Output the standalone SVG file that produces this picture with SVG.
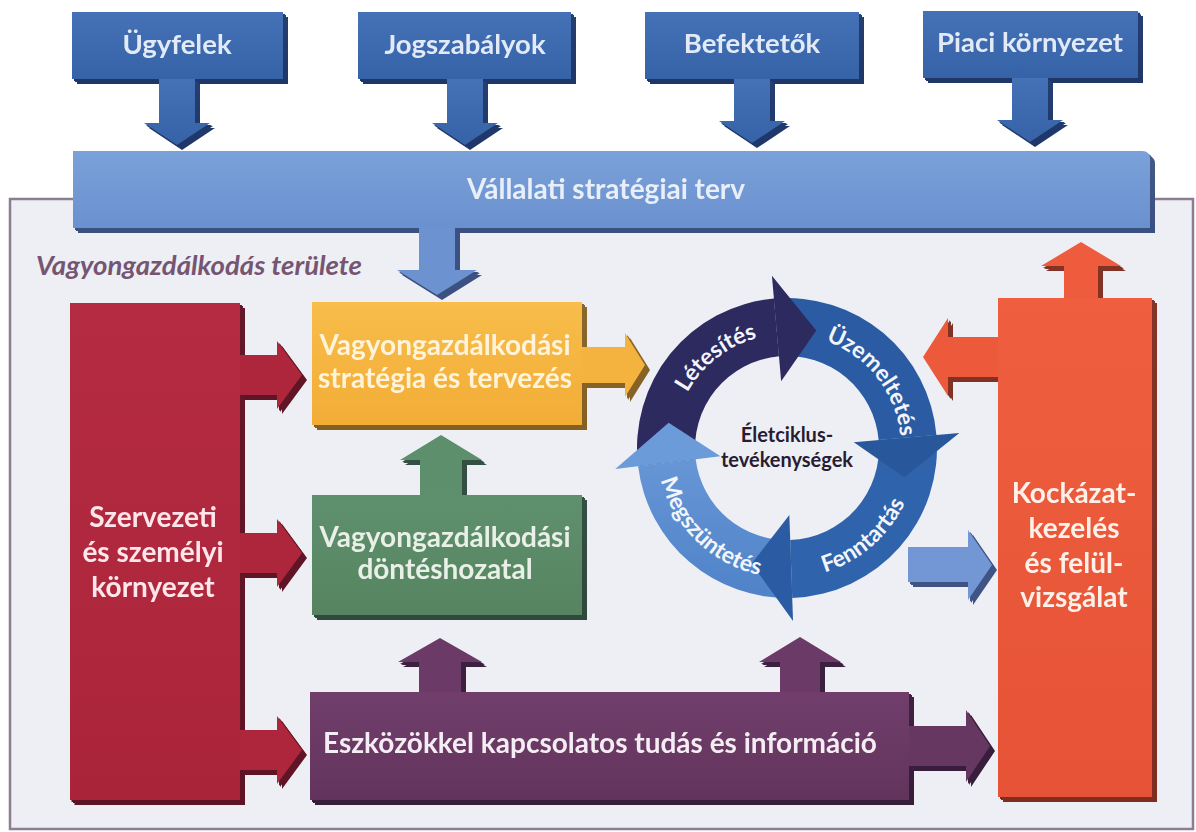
<svg xmlns="http://www.w3.org/2000/svg" width="1196" height="832" viewBox="0 0 1196 832">
<defs>
<style>
.lbl{font-family:Lato,"Open Sans","DejaVu Sans",sans-serif;font-weight:700;font-size:28px;text-anchor:middle}
.top{font-size:27.5px}
.ring{font-family:Lato,"Open Sans","DejaVu Sans",sans-serif;font-weight:700;font-size:23px;fill:#f2f5fb}
.ctr{font-family:Lato,"Open Sans","DejaVu Sans",sans-serif;font-weight:700;font-size:20px;fill:#2a1c30;text-anchor:middle}
</style>
<filter id="ext" x="0" y="0" width="1196" height="832" filterUnits="userSpaceOnUse" color-interpolation-filters="sRGB">
<feColorMatrix in="SourceGraphic" type="matrix" values="0.55 0 0 0 0 0 0.55 0 0 0 0 0 0.62 0 0 0 0 0 1 0" result="dark"/>
<feOffset in="dark" dx="1.5" dy="1.7" result="d1"/>
<feOffset in="dark" dx="3" dy="3.4" result="d2"/>
<feOffset in="dark" dx="4.5" dy="5" result="d3"/>
<feMerge><feMergeNode in="d3"/><feMergeNode in="d2"/><feMergeNode in="d1"/><feMergeNode in="SourceGraphic"/></feMerge>
</filter>
<linearGradient id="gBlue" x1="0" y1="0" x2="0" y2="1"><stop offset="0" stop-color="#4572b7"/><stop offset="1" stop-color="#3662a8"/></linearGradient>
<linearGradient id="gBar" x1="0" y1="0" x2="0" y2="1"><stop offset="0" stop-color="#7ba1d9"/><stop offset="1" stop-color="#6a91cf"/></linearGradient>
<linearGradient id="gRed" x1="0" y1="0" x2="0" y2="1"><stop offset="0" stop-color="#b52c42"/><stop offset="1" stop-color="#aa2439"/></linearGradient>
<linearGradient id="gYel" x1="0" y1="0" x2="0" y2="1"><stop offset="0" stop-color="#f8bd4a"/><stop offset="1" stop-color="#f2ad37"/></linearGradient>
<linearGradient id="gGrn" x1="0" y1="0" x2="0" y2="1"><stop offset="0" stop-color="#5f906e"/><stop offset="1" stop-color="#568460"/></linearGradient>
<linearGradient id="gPur" x1="0" y1="0" x2="0" y2="1"><stop offset="0" stop-color="#713e6b"/><stop offset="1" stop-color="#62345d"/></linearGradient>
<linearGradient id="gOra" x1="0" y1="0" x2="0" y2="1"><stop offset="0" stop-color="#ef5f3f"/><stop offset="1" stop-color="#e65236"/></linearGradient>
<linearGradient id="gMeg" x1="0" y1="0" x2="0" y2="1"><stop offset="0" stop-color="#6796d6"/><stop offset="1" stop-color="#4f82c8"/></linearGradient>
<path id="tpLet" d="M674.1,463.9 A114,114 0 0 1 829.7,342.3"/>
<path id="tpUzem" d="M771.1,335.1 A114,114 0 0 1 892.7,490.7"/>
<path id="tpFenn" d="M744.7,570.9 A130,130 0 0 0 914.6,423.2"/>
<path id="tpMeg" d="M660.86,416.55 A130,130 0 0 0 822.83,572.96"/>
</defs>
<rect x="0" y="0" width="1196" height="832" fill="#ffffff"/>
<g id="frame">
<rect x="10" y="199" width="1183" height="630" fill="#edeff4" stroke="#8a7e90" stroke-width="2.5"/>
<text x="36" y="275" font-family="Lato,'Open Sans',sans-serif" font-weight="700" font-style="italic" font-size="27.5" fill="#765572">Vagyongazdálkodás területe</text>
</g>
<g filter="url(#ext)">
<g id="connectors">
<polygon fill="url(#gBlue)" points="159,78 195,78 195,123 210,123 177,145 144,123 159,123"/>
<polygon fill="url(#gBlue)" points="447,78 483,78 483,123 498,123 465,145 432,123 447,123"/>
<polygon fill="url(#gBlue)" points="734,78 770,78 770,121 785,121 752,143 719,121 734,121"/>
<polygon fill="url(#gBlue)" points="1012,77 1048,77 1048,120 1063,120 1030,142 997,120 1012,120"/>
<polygon fill="#6c93d0" points="419,227 455,227 455,270 477,270 437,295 397,270 419,270"/>
<polygon fill="#ad263b" points="239,355 277,355 277,341 302,375 277,409 277,395 239,395"/>
<polygon fill="#ad263b" points="239,533 277,533 277,519 302,553 277,587 277,573 239,573"/>
<polygon fill="#ad263b" points="239,730 277,730 277,716 302,750 277,784 277,770 239,770"/>
<polygon fill="#f4b23e" points="581,347 625,347 625,333 645,365 625,397 625,383 581,383"/>
<polygon fill="#5e8f6d" points="420,496 420,460 400,460 441,435 482,460 462,460 462,496"/>
<polygon fill="#6c3a66" points="419,693 419,662 398,662 440,638 482,662 461,662 461,693"/>
<polygon fill="#6c3a66" points="780,693 780,662 759,662 800,637 841,662 820,662 820,693"/>
<polygon fill="#663761" points="908,726 966,726 966,710 990,746 966,782 966,766 908,766"/>
<polygon fill="#ee5c3d" points="1064,299 1064,266 1041,266 1081,242 1121,266 1098,266 1098,299"/>
<polygon fill="#ec5a3b" points="999,337 948,337 948,318 923,357 948,396 948,377 999,377"/>
<polygon fill="#7397d5" points="908,547 968,547 968,530 992,565 968,600 968,582 908,582"/>
</g>
<g id="ugyfelek">
<rect x="72" y="12" width="211" height="67" fill="url(#gBlue)"/>
<text class="lbl top" x="177" y="54" fill="#e2eaf7">Ügyfelek</text>
</g>
<g id="jogszabalyok">
<rect x="358" y="12" width="213" height="67" fill="url(#gBlue)"/>
<text class="lbl top" x="465" y="54" fill="#e2eaf7">Jogszabályok</text>
</g>
<g id="befektetok">
<rect x="645" y="12" width="214" height="67" fill="url(#gBlue)"/>
<text class="lbl top" x="752" y="53" fill="#e2eaf7">Befektetők</text>
</g>
<g id="piaci">
<rect x="923" y="11" width="215" height="67" fill="url(#gBlue)"/>
<text class="lbl top" x="1030" y="52" fill="#e2eaf7">Piaci környezet</text>
</g>
<g id="strategia-terv">
<path d="M73,151 H1142 Q1150,151 1150,159 V228 H73 Z" fill="url(#gBar)"/>
<text class="lbl" x="606" y="199" fill="#e8eff9">Vállalati stratégiai terv</text>
</g>
<g id="szervezeti">
<rect x="70" y="303" width="170" height="497" fill="url(#gRed)"/>
<text class="lbl" x="153" y="527" fill="#ffe6ea">Szervezeti</text>
<text class="lbl" x="153" y="562" fill="#ffe6ea">és személyi</text>
<text class="lbl" x="153" y="597" fill="#ffe6ea">környezet</text>
</g>
<g id="strategia-tervezes">
<rect x="312" y="302" width="270" height="123" fill="url(#gYel)"/>
<text class="lbl" x="445" y="355" fill="#fff3da">Vagyongazdálkodási</text>
<text class="lbl" x="445" y="388" fill="#fff3da">stratégia és tervezés</text>
</g>
<g id="donteshozatal">
<rect x="312" y="495" width="270" height="120" fill="url(#gGrn)"/>
<text class="lbl" x="445" y="547" fill="#e9f0e7">Vagyongazdálkodási</text>
<text class="lbl" x="445" y="579" fill="#e9f0e7">döntéshozatal</text>
</g>
<g id="tudas-informacio">
<rect x="310" y="692" width="599" height="108" fill="url(#gPur)"/>
<text class="lbl" x="600" y="753" fill="#f4edf3">Eszközökkel kapcsolatos tudás és információ</text>
</g>
<g id="kockazatkezeles">
<rect x="998" y="298" width="154" height="499" fill="url(#gOra)"/>
<text class="lbl" x="1074" y="503" fill="#fff0ea">Kockázat-</text>
<text class="lbl" x="1074" y="538" fill="#fff0ea">kezelés</text>
<text class="lbl" x="1074" y="573" fill="#fff0ea">és felül-</text>
<text class="lbl" x="1074" y="607" fill="#fff0ea">vizsgálat</text>
</g>
</g>
<g id="eletciklus">
<path fill="#2d2a5f" d="M638.12,466.28 A150,150 0 0 1 773.93,298.57 L778.98,356.35 A92,92 0 0 0 695.69,459.21 Z"/>
<path fill="#2b5ba2" d="M773.93,298.57 A150,150 0 0 1 936.43,434.93 L878.65,439.98 A92,92 0 0 0 778.98,356.35 Z"/>
<path fill="#2f63ab" d="M936.43,434.93 A150,150 0 0 1 792.24,597.91 L790.21,539.94 A92,92 0 0 0 878.65,439.98 Z"/>
<path fill="url(#gMeg)" d="M792.24,597.91 A150,150 0 0 1 638.12,466.28 L695.69,459.21 A92,92 0 0 0 790.21,539.94 Z"/>
<polygon fill="#2d2a5f" points="771.92,275.66 816.27,330.59 781.16,381.25"/>
<polygon fill="#28579c" points="959.34,432.92 904.41,477.27 853.75,442.16"/>
<polygon fill="#2b5ca3" points="793.04,620.89 751.62,563.71 789.34,514.96"/>
<polygon fill="#6b9bd9" points="615.29,469.08 668.64,422.84 720.50,456.17"/>
<text class="ring"><textPath href="#tpLet" startOffset="50%" text-anchor="middle">Létesítés</textPath></text>
<text class="ring"><textPath href="#tpUzem" startOffset="50%" text-anchor="middle">Üzemeltetés</textPath></text>
<text class="ring"><textPath href="#tpFenn" startOffset="50%" text-anchor="middle">Fenntartás</textPath></text>
<text class="ring"><textPath href="#tpMeg" startOffset="50%" text-anchor="middle">Megszüntetés</textPath></text>
<text class="ctr" x="787" y="442">Életciklus-</text>
<text class="ctr" x="787" y="467">tevékenységek</text>
</g>
</svg>
